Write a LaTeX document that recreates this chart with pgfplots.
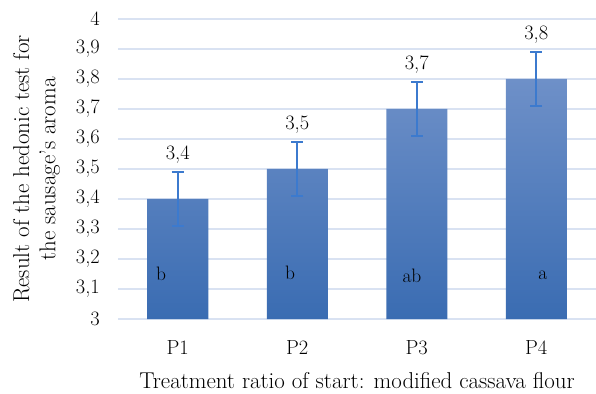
\documentclass[border=0pt]{standalone}
\usepackage{fontspec}
\usepackage{pgfplots}
\pgfplotsset{compat=1.18}
\definecolor{gridc}{RGB}{217,226,242}
\definecolor{bartop}{RGB}{110,144,200}
\definecolor{barbot}{RGB}{58,108,178}
\definecolor{errc}{RGB}{60,122,206}
\newcommand{\labf}{\fontsize{23}{26.5}\selectfont}
\newcommand{\tickf}{\fontsize{20.5}{24}\selectfont}
\newcommand{\letf}{\fontsize{19.5}{22}\selectfont}
\begin{document}
\begin{tikzpicture}
\begin{axis}[
  at={(0,0)}, anchor=south west, scale only axis,
  width=478bp, height=300bp,
  xmin=-0.5, xmax=3.5, ymin=3, ymax=4,
  xtick={0,1,2,3}, xticklabels={P1,P2,P3,P4},
  ytick={3,3.1,3.2,3.3,3.4,3.5,3.6,3.7,3.8,3.9,4},
  axis line style={draw=none},
  tick style={draw=none},
  ymajorgrids, grid style={gridc, line width=1.3bp},
  clip=false,
  /pgf/number format/assume math mode=true,
  yticklabel style={/pgf/number format/.cd, use comma, fixed, precision=1, assume math mode=true, /tikz/.cd, anchor=east, inner sep=0pt, xshift=-18bp, font=\tickf},
  xticklabel style={anchor=center, yshift=-29bp, font=\tickf},
  xlabel={Treatment ratio of start: modified cassava flour},
  xlabel style={at={(axis description cs:0.5,0)}, anchor=center, yshift=-62bp, font=\labf},
  ylabel={Result of the hedonic test for\\the sausage's aroma},
  ylabel style={at={(axis description cs:-0.1705,0.5)}, anchor=center, align=center, font=\labf},
]
\addplot[ybar, bar width=61bp, draw=none, top color=bartop, bottom color=barbot,
  error bars/.cd, y dir=both, y explicit,
  error bar style={draw=errc, line width=1.6bp},
  error mark options={draw=errc, rotate=90, mark size=6bp, line width=1.6bp}]
  coordinates {(0,3.4) +- (0,0.09) (1,3.5) +- (0,0.09) (2,3.7) +- (0,0.09) (3,3.8) +- (0,0.09)};
\addplot[draw=none, mark=none, nodes near coords, point meta=explicit symbolic,
  every node near coord/.append style={anchor=center, yshift=17bp, font=\tickf, text=black}]
  coordinates {(0,3.49)[3,4] (1,3.59)[3,5] (2,3.79)[3,7] (3,3.89)[3,8]};
\addplot[draw=none, mark=none, nodes near coords, point meta=explicit symbolic,
  every node near coord/.append style={anchor=center, font=\letf, text=black}]
  coordinates {(-0.14,3.15)[b] (0.94,3.155)[b] (1.96,3.145)[ab] (3.055,3.145)[a]};
\end{axis}
\pgfresetboundingbox
\path[use as bounding box] (-118bp,-75bp) rectangle (478bp,319bp);
\end{tikzpicture}
\end{document}
